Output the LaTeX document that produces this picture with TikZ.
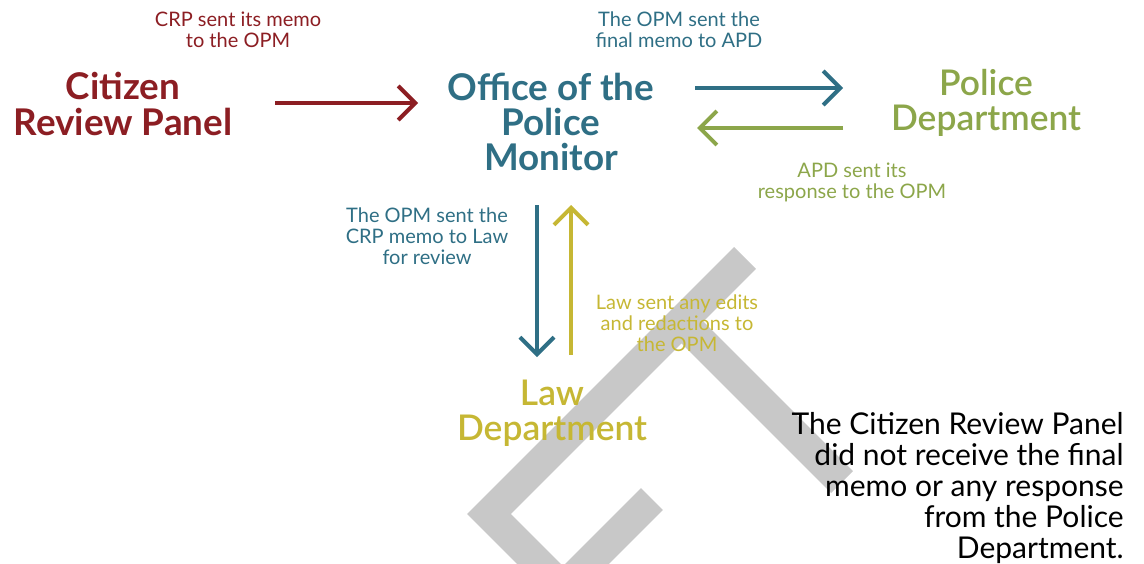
\documentclass[tikz,border=0pt]{standalone}
\usepackage{fontspec}
\setmainfont{Lato}
\newfontface\latosemi{Lato Semibold}
\usetikzlibrary{arrows.meta}

\definecolor{crpred}{HTML}{8C1E23}
\definecolor{opmblue}{HTML}{2F6F85}
\definecolor{apdgreen}{HTML}{8CA64A}
\definecolor{lawyellow}{HTML}{C6B734}
\definecolor{wmgrey}{HTML}{C8C8C8}

\tikzset{
  title/.style={font=\bfseries\fontsize{18.4}{17.7}\selectfont, align=center, inner sep=0pt},
  subtitle/.style={font=\latosemi\fontsize{17.7}{17.7}\selectfont, align=center, inner sep=0pt},
  memo/.style={font=\fontsize{10}{10.5}\selectfont, align=center, inner sep=0pt},
  flow/.style={line width=2pt, -{Straight Barb[length=8.5pt,width=17pt]}},
  band/.style={line width=15.5pt, draw=wmgrey, line join=miter}
}

\begin{document}
\begin{tikzpicture}[x=0.5pt,y=-0.5pt]
    \useasboundingbox (0,0) rectangle (1144,563);
    % grey mark behind the text
    \begin{scope}
      \clip (0,0) rectangle (1144,563);
      \draw[band] (745,258) -- (489,514) -- (560,585);
      \draw[band] (681,321) -- (842,482);
      \draw[band] (652,499) -- (570,581);
    \end{scope}
    \node[title,text=crpred] (crp) at (123,104) {Citizen\\Review Panel};
    \node[title,text=opmblue] (opm) at (551,122) {Office of the\\Police\\Monitor};
    \node[subtitle,text=apdgreen] (apd) at (986,103) {Police\\Department};
    \node[subtitle,text=lawyellow] (law) at (552,413) {Law\\Department};
    \node[memo,text=crpred] (crpmemo) at (238,30) {CRP sent its memo\\to the OPM};
    \node[memo,text=opmblue] (finalmemo) at (679,30) {The OPM sent the\\final memo to APD};
    \node[memo,text=apdgreen] (apdresp) at (852,182) {APD sent its\\response to the OPM};
    \node[memo,text=opmblue] (lawreview) at (427,236) {The OPM sent the\\CRP memo to Law\\for review};
    \node[memo,text=lawyellow] (lawedits) at (677,323) {Law sent any edits\\and redactions to\\the OPM};
    \node[font=\fontsize{15}{15.5}\selectfont, align=right, inner sep=0pt, anchor=east] (note) at (1124,488)
      {The Citizen Review Panel\\did not receive the final\\memo or any response\\from the Police\\Department.};
    \coordinate (R0) at (275,103);
    \coordinate (R1) at (418,103);
    \coordinate (B0) at (695,88);
    \coordinate (B1) at (843,88);
    \coordinate (G0) at (843,128);
    \coordinate (G1) at (697,128);
    \coordinate (D0) at (537,205);
    \coordinate (D1) at (537,357);
    \coordinate (Y0) at (571,355);
    \coordinate (Y1) at (571,205);
    \draw[flow,crpred] (R0) -- (R1);
    \draw[flow,opmblue] (B0) -- (B1);
    \draw[flow,apdgreen] (G0) -- (G1);
    \draw[flow,opmblue] (D0) -- (D1);
    \draw[flow,lawyellow] (Y0) -- (Y1);
  \end{tikzpicture}
\end{document}
